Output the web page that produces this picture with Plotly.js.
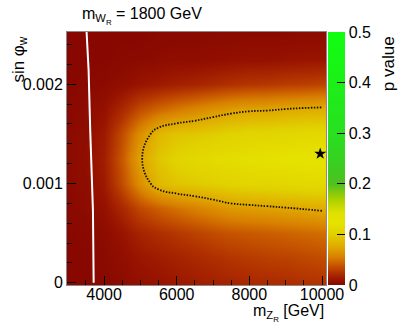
<!DOCTYPE html>
<html>
<head>
<meta charset="utf-8">
<script src="https://cdn.plot.ly/plotly-3.0.1.min.js"></script>
<style>
  body { margin: 0; background: white; }
  #graph { width: 407px; height: 332px; }
</style>
</head>
<body>
<div id="graph"></div>
<script>
// m_ZR bin centres (GeV) and sin(phi_w) rows
const mZR = [3000, 3500, 4000, 4500, 5000, 5500, 6000, 6500, 7000, 7500, 8000, 8500, 9000, 9500, 10000]
const sinPhi = [0, 0.00025, 0.0005, 0.00075, 0.001, 0.00125, 0.0015, 0.00175, 0.002, 0.00225, 0.0025]

// p value, one row per sinPhi (bottom to top)
const pRow0 = [.001, .001, .002, .004, .007, .009, .012, .014, .016, .018, .020, .021, .022, .024, .025]
const pRow1 = [.001, .001, .003, .006, .011, .014, .017, .020, .023, .026, .028, .030, .031, .033, .035]
const pRow2 = [.001, .002, .004, .010, .018, .023, .027, .031, .035, .038, .040, .042, .044, .046, .048]
const pRow3 = [.002, .004, .008, .020, .034, .043, .050, .056, .062, .068, .070, .072, .074, .076, .078]
const pRow4 = [.003, .005, .013, .035, .062, .085, .092, .095, .099, .103, .106, .107, .108, .110, .111]
const pRow5 = [.003, .006, .015, .040, .073, .093, .104, .110, .114, .117, .119, .121, .123, .124, .125]
const pRow6 = [.003, .005, .013, .035, .062, .085, .092, .094, .098, .102, .105, .106, .108, .110, .111]
const pRow7 = [.002, .004, .008, .020, .035, .045, .052, .058, .064, .069, .072, .073, .075, .077, .078]
const pRow8 = [.001, .002, .003, .006, .010, .013, .016, .018, .021, .024, .026, .027, .029, .030, .032]
const pRow9 = [.001, .001, .001, .002, .003, .004, .005, .005, .006, .007, .008, .008, .009, .010, .010]
const pRow10 = [.001, .001, .001, .001, .001, .002, .002, .002, .003, .003, .003, .003, .003, .004, .004]
const pValue = [pRow0, pRow1, pRow2, pRow3, pRow4, pRow5, pRow6, pRow7, pRow8, pRow9, pRow10]

// contour level drawn dotted
const pLevel = 0.075

// white limit line
const limX = [3714, 3694, 3619, 3603, 3575, 3519]
const limY = [0, 0.00073, 0.00154, 0.00177, 0.00214, 0.00253]

// best fit point
const bestX = [9950]
const bestY = [0.0013]

const fonte = 'Liberation Sans, Arial, sans-serif'

const paleta = [
    [0, '#860600'], [0.02, '#981400'], [0.048, '#b03000'], [0.08, '#c85800'],
    [0.11, '#d88000'], [0.15, '#e0a800'], [0.2, '#e0d000'], [0.246, '#e6e200'],
    [0.286, '#e0e000'], [0.34, '#a8d000'], [0.4, '#50c020'], [0.46, '#3ccc20'],
    [0.6, '#28e020'], [1, '#10ff10']
]

const mapa = {
    type: 'heatmap',
    x: mZR,
    y: sinPhi,
    z: pValue,
    zmin: 0,
    zmax: 0.5,
    zsmooth: 'best',
    colorscale: paleta,
    colorbar: {
        x: 1.006, xanchor: 'left', xpad: 0,
        y: 0.5, len: 1, ypad: 0,
        thickness: 17,
        outlinewidth: 0,
        tickmode: 'linear', tick0: 0, dtick: 0.1,
        ticks: 'inside', ticklen: 8, tickcolor: 'black',
        tickfont: { family: fonte, size: 16, color: 'black' }
    }
}

const contorno = {
    type: 'contour',
    x: mZR,
    y: sinPhi,
    z: pValue,
    showscale: false,
    autocontour: false,
    contours: { coloring: 'none', start: pLevel, end: pLevel, size: 1 },
    line: { color: '#111', dash: '1.5px,1.5px', width: 1.8, smoothing: 1.3 },
    hoverinfo: 'skip'
}

const limite = {
    type: 'scatter', mode: 'lines',
    x: limX, y: limY,
    line: { color: 'white', width: 2 },
    hoverinfo: 'skip'
}

const estrela = {
    type: 'scatter', mode: 'markers',
    x: bestX, y: bestY,
    marker: { symbol: 'star', size: 9, color: 'black' },
    hoverinfo: 'skip'
}

const layout = {
    width: 407, height: 332,
    margin: { l: 67, r: 81, t: 32, b: 47 },
    paper_bgcolor: 'white',
    plot_bgcolor: 'white',
    showlegend: false,
    font: { family: fonte, size: 16, color: 'black' },
    xaxis: {
        range: [2980, 10110],
        tickmode: 'linear', tick0: 0, dtick: 2000, tickformat: 'd',
        ticks: 'inside', ticklen: 9, tickcolor: 'black',
        ticklabelstandoff: -5,
        minor: { dtick: 500, ticks: 'inside', ticklen: 5, tickcolor: 'black' },
        showgrid: false, zeroline: false,
        showline: true, mirror: true, linecolor: '#888', linewidth: 1,
        tickfont: { family: fonte, size: 16 }
    },
    yaxis: {
        range: [-0.000022, 0.002526],
        tickmode: 'linear', tick0: 0, dtick: 0.001,
        ticks: 'inside', ticklen: 9, tickcolor: 'black',
        minor: { dtick: 0.0002, ticks: 'inside', ticklen: 5, tickcolor: 'black' },
        showgrid: false, zeroline: false,
        showline: true, mirror: true, linecolor: '#888', linewidth: 1,
        tickfont: { family: fonte, size: 16 }
    },
    annotations: [
        {
            text: 'm<sub>W<sub>R</sub></sub> = 1800 GeV',
            xref: 'paper', yref: 'paper', x: 0.05, y: 1.065,
            xanchor: 'left', yanchor: 'middle', showarrow: false,
            font: { family: fonte, size: 16 }
        },
        {
            text: 'sin φ<sub>w</sub>',
            xref: 'paper', yref: 'paper', x: -0.185, y: 0.99,
            xanchor: 'center', yanchor: 'top', textangle: -90, showarrow: false,
            font: { family: fonte, size: 17 }
        },
        {
            text: 'm<sub>Z<sub>R</sub></sub> [GeV]',
            xref: 'paper', yref: 'paper', x: 1, y: -0.11,
            xanchor: 'right', yanchor: 'middle', showarrow: false,
            font: { family: fonte, size: 16 }
        },
        {
            text: 'p value',
            xref: 'paper', yref: 'paper', x: 1.24, y: 0.99,
            xanchor: 'center', yanchor: 'top', textangle: -90, showarrow: false,
            font: { family: fonte, size: 17 }
        }
    ]
}

Plotly.newPlot('graph', [mapa, contorno, limite, estrela], layout, { staticPlot: true })
</script>
</body>
</html>
